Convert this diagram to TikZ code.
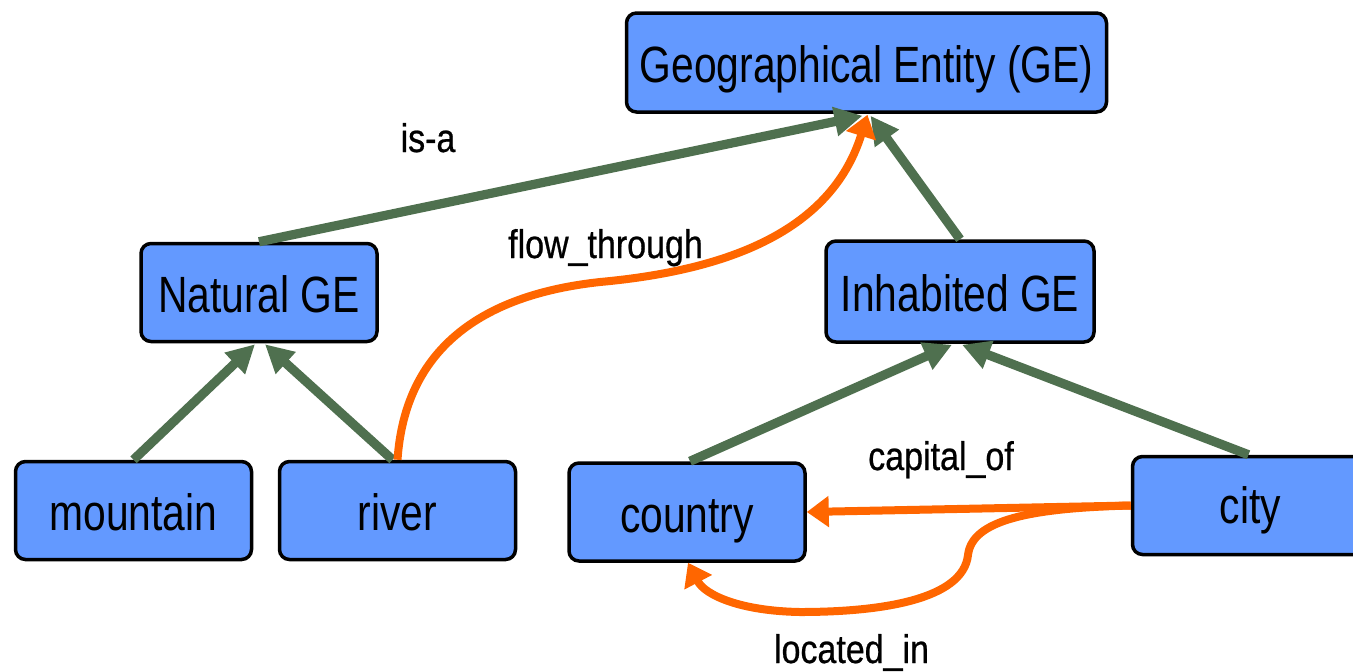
\documentclass[tikz,border=0pt]{standalone}
\usepackage{fontspec}
\setmainfont{Liberation Sans}
\newfontfamily\boxfont[FakeStretch=0.8]{Liberation Sans}
\newfontfamily\lblfont[FakeStretch=0.85,FakeBold=0.6]{Liberation Sans}
\usetikzlibrary{arrows.meta,calc}
\definecolor{boxblue}{RGB}{99,153,255}
\definecolor{isagreen}{RGB}{79,112,79}
\definecolor{relorange}{RGB}{255,102,0}

\begin{document}
\begin{tikzpicture}[x=0.5pt,y=-0.5pt,
  concept/.style={draw=black, line width=1.75pt, fill=boxblue, rounded corners=5pt,
    minimum width=118pt, minimum height=49pt, inner sep=0pt,
    font=\boxfont\fontsize{25.5}{25.5}\selectfont, text height=20pt, text depth=0pt},
  isa/.style={draw=isagreen, line width=4.6pt, -{Triangle[length=14pt,width=14pt]}},
  rel/.style={draw=relorange, line width=4pt, -{Triangle[length=11pt,width=15pt]}},
  lbl/.style={font=\lblfont\fontsize{20}{20}\selectfont, anchor=base, inner sep=0pt}]
\clip (0,0) rectangle (1353,671);
\useasboundingbox (0,0) rectangle (1353,671);

% concept boxes
\node[concept, minimum width=240pt, minimum height=49.5pt] (ge) at (866.5,62.5) {Geographical Entity (GE)};
\node[concept] (natural) at (259,292.5) {Natural GE};
\node[concept, minimum width=134pt, minimum height=50.5pt] (inhabited) at (960,291.5) {Inhabited GE};
\node[concept] (mountain) at (133.5,510.5) {mountain};
\node[concept] (river) at (397.5,510.5) {river};
\node[concept] (country) at (687,512) {country};
\node[concept, text height=18pt] (city) at (1250.5,505.5) {city};

% is-a hierarchy
\draw[isa] (natural.north) -- ($(ge.south)+(-4,2)$);
\draw[isa] (inhabited.north) -- ($(ge.south)+(4,2)$);
\draw[isa] (mountain.north) -- ($(natural.south)+(-4,1)$);
\draw[isa] ($(river.north)+(-5,0)$) -- ($(natural.south)+(6,1)$);
\draw[isa] ($(country.north)+(3,0)$) -- ($(inhabited.south)+(-8,1)$);
\draw[isa] ($(city.north)+(-2,0)$) -- ($(inhabited.south)+(2,1)$);

% relations
\draw[rel] (river.north) .. controls (405,350) and (480,295) .. (600,282)
  .. controls (720,271) and (830,235) .. ($(ge.south)+(1,1)$);
\draw[rel] (city.west) -- (country.east);
\draw[rel] (city.west) .. controls (1030,508) and (972,520) .. (968,555)
  .. controls (963,600) and (880,612) .. (800,612)
  .. controls (740,611) and (705,595) .. ($(country.south)+(1,0)$);

% labels
\node[lbl] (l-isa) at (428,152) {is-a};
\node[lbl] (l-flow) at (605.5,258) {flow\_through};
\node[lbl] (l-cap) at (941,470) {capital\_of};
\node[lbl] (l-loc) at (851.5,663) {located\_in};
\end{tikzpicture}
\end{document}
